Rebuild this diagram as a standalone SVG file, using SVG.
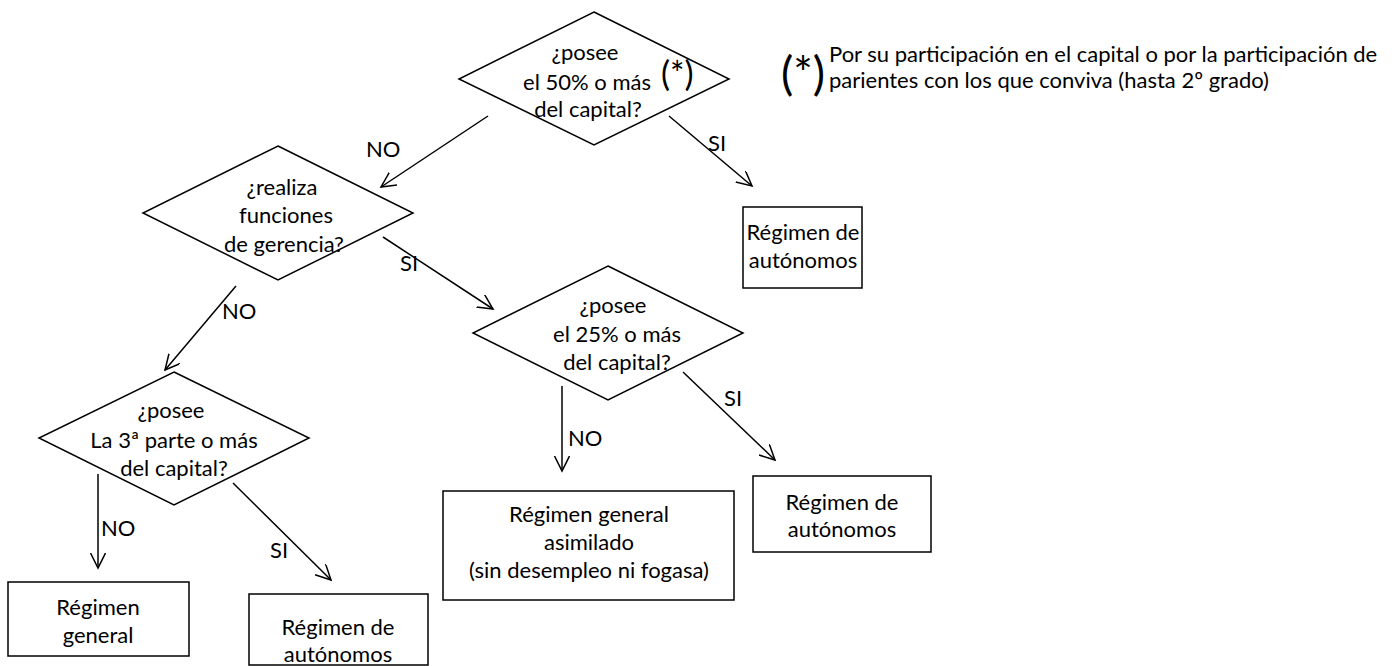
<svg xmlns="http://www.w3.org/2000/svg" width="1394" height="666" viewBox="0 0 1394 666">
<style>
.s{fill:#fff;stroke:#000;stroke-width:1.5}
.t{font-family:Lato,"Open Sans","Liberation Sans",sans-serif;font-size:22px;fill:#000;text-anchor:middle}
.l{font-family:Lato,"Open Sans","Liberation Sans",sans-serif;font-size:22px;fill:#000}
.c{stroke:#000;stroke-width:1.5;fill:none;marker-end:url(#a)}
</style>
<defs>
<marker id="a" markerWidth="20" markerHeight="20" refX="15" refY="7.5" orient="auto" markerUnits="userSpaceOnUse">
<path d="M0,0 L15,7.5 L0,15" fill="none" stroke="#000" stroke-width="1.5"/>
</marker>
</defs>
<rect width="1394" height="666" fill="#fff"/>
<g id="connectors">
<line class="c" x1="488" y1="116" x2="381" y2="187"/>
<line class="c" x1="669" y1="116" x2="752" y2="186"/>
<line class="c" x1="383" y1="237" x2="493" y2="309"/>
<line class="c" x1="236" y1="286" x2="165" y2="370"/>
<line class="c" x1="562" y1="386" x2="562" y2="471"/>
<line class="c" x1="683" y1="372" x2="775" y2="460"/>
<line class="c" x1="98" y1="474" x2="98" y2="568"/>
<line class="c" x1="233" y1="483" x2="331" y2="580"/>
<text class="l" x="366" y="157">NO</text>
<text class="l" x="708" y="151">SI</text>
<text class="l" x="400" y="271">SI</text>
<text class="l" x="222" y="319">NO</text>
<text class="l" x="568" y="446">NO</text>
<text class="l" x="724" y="406">SI</text>
<text class="l" x="101" y="536">NO</text>
<text class="l" x="270" y="558">SI</text>
</g>
<g id="d1">
<polygon class="s" points="594,12 729,79 594,145 459,79"/>
<text class="t" x="585" y="60">¿posee</text>
<text class="t" x="587" y="90">el 50% o más</text>
<text class="t" x="588" y="117">del capital?</text>
<text class="l" x="661" y="86" style="font-size:34px">(*)</text>
</g>
<g id="note">
<text class="l" x="781" y="90" style="font-size:46px">(*)</text>
<text class="l" x="829" y="62">Por su participación en el capital o por la participación de</text>
<text class="l" x="829" y="88">parientes con los que conviva (hasta 2º grado)</text>
</g>
<g id="d2">
<polygon class="s" points="278,146 413,213 278,280 143,213"/>
<text class="t" x="282" y="195">¿realiza</text>
<text class="t" x="286" y="223">funciones</text>
<text class="t" x="284" y="252">de gerencia?</text>
</g>
<g id="b1">
<rect class="s" x="743" y="207" width="119" height="81"/>
<text class="t" x="803" y="240">Régimen de</text>
<text class="t" x="803" y="268">autónomos</text>
</g>
<g id="d4">
<polygon class="s" points="608,266 743,333 608,400 473,333"/>
<text class="t" x="613" y="313">¿posee</text>
<text class="t" x="617" y="342">el 25% o más</text>
<text class="t" x="617" y="370">del capital?</text>
</g>
<g id="d3">
<polygon class="s" points="174,372 309,438 174,505 39,438"/>
<text class="t" x="171" y="418">¿posee</text>
<text class="t" x="174" y="448">La 3ª parte o más</text>
<text class="t" x="174" y="476">del capital?</text>
</g>
<g id="b2">
<rect class="s" x="753" y="476" width="178" height="76"/>
<text class="t" x="842" y="510">Régimen de</text>
<text class="t" x="842" y="537">autónomos</text>
</g>
<g id="b3">
<rect class="s" x="443" y="491" width="291" height="109"/>
<text class="t" x="589" y="522">Régimen general</text>
<text class="t" x="589" y="550">asimilado</text>
<text class="t" x="589" y="578">(sin desempleo ni fogasa)</text>
</g>
<g id="b4">
<rect class="s" x="8" y="582" width="181" height="74"/>
<text class="t" x="98" y="615">Régimen</text>
<text class="t" x="98" y="643">general</text>
</g>
<g id="b5">
<rect class="s" x="249" y="594" width="179" height="71"/>
<text class="t" x="338" y="635">Régimen de</text>
<text class="t" x="338" y="662">autónomos</text>
</g>
</svg>
